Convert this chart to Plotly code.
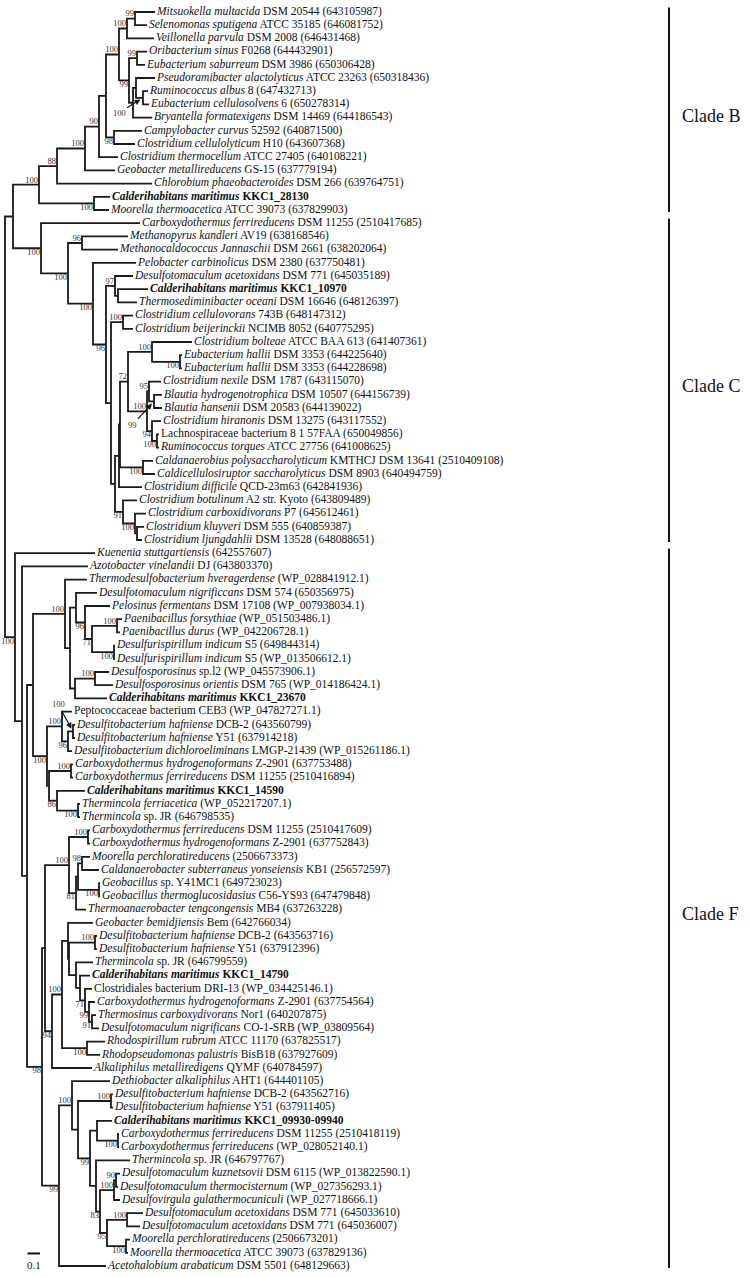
import plotly.graph_objects as go

# Arvore em Newick: folhas = indice nas listas de nomes, nos internos = bootstrap,
# comprimentos em substituicoes por sitio.
B_VEILLONELLA = "((0:0.160,1:0.096)99:0.064,2:0.216)100:0.064"
B_RUMINO = ("((3:0.080,4:0.064)99:0.064,((5:0.152,(6:0.040,7:0.048)100:0.056):0.024,"
            "8:0.152):0.032)99:0.080")
CLADE_B = ("((((((" + B_VEILLONELLA + "," + B_RUMINO + ")100:0.104,(9:0.224,10:0.168)98:0.064):0.056,"
           "11:0.152)90:0.112,12:0.240)100:0.224,13:0.760)88:0.144,(14:0.128,15:0.120)100:0.440)100:0.208")

C_LACHNO = ("((25:0.320,(26:0.016,27:0.016)100:0.224)100:0.192,((28:0.096,(29:0.064,30:0.064)99:0.040)95:0.016,"
            "(31:0.072,(32:0.016,33:0.016)100:0.040)94:0.040)100:0.152)72:0.064")
C_CLOSTRIDIA = ("(((" + C_LACHNO + ",(34:0.080,35:0.096)100:0.184):0.008,36:0.184):0.032,"
                "(37:0.112,(38:0.088,(39:0.056,40:0.040):0.016)100:0.096)91:0.064):0.032")
CLADE_C = ("(16:0.792,((17:0.368,18:0.288)96:0.112,(19:0.344,((20:0.144,(21:0.240,22:0.152):0.024)97:0.072,"
           "((23:0.080,24:0.080)100:0.096," + C_CLOSTRIDIA + "):0.040)96:0.104)100:0.200)100:0.216)100:0.224")

F_FA = ("(43:0.176,((44:0.168,(45:0.200,((46:0.040,47:0.024)100:0.200,(48:0.008,49:0.008)100:0.176)71:0.056)"
        "96:0.072):0.048,((50:0.112,51:0.144)100:0.160,52:0.256):0.040):0.040)100:0.256")
F_PK = ("((53:0.080,((54:0.016,55:0.016)100:0.040,56:0.032)96:0.048)100:0.120,((57:0.016,58:0.016)100:0.176,"
        "(59:0.224,(60:0.016,61:0.016)100:0.168)86:0.064):0.016)100:0.112")
F_CI = ("((62:0.016,63:0.016)100:0.152,(((64:0.064,65:0.136)98:0.032,(66:0.008,67:0.008)100:0.168):0.016,"
        "68:0.080)81:0.056)100:0.192")
F_DI = ("(((69:0.200,((70:0.016,71:0.016)100:0.208,(72:0.136,(73:0.080,(74:0.056,(75:0.048,(76:0.032,"
        "77:0.056)91:0.024)99:0.032)71:0.040):0.032):0.056):0.008):0.048,(78:0.144,79:0.104)100:0.200)100:0.080,"
        "80:0.320)94:0.056")
F_F4 = ("((81:0.304,((82:0.016,83:0.016)100:0.264,((84:0.120,(85:0.008,86:0.008)100:0.168):0.056,(87:0.272,"
        "(((88:0.032,89:0.016)90:0.016,90:0.048)100:0.112,((91:0.128,92:0.104)100:0.160,(93:0.032,94:0.016)100:0.152)"
        "95:0.056)83:0.032):0.048)99:0.096):0.048)100:0.104,95:0.376)99:0.136")
CLADE_F = ("(41:0.640,(42:0.528,((" + F_FA + "," + F_PK + "):0.048,((" + F_CI + "," + F_DI + "):0.024,"
           + F_F4 + ")98:0.120):0.040):0.056)100:0.080")

NEWICK = "((" + CLADE_B + "," + CLADE_C + "):0.064," + CLADE_F + ");"

# Nomes das folhas: parte em italico e parte normal.
SPECIES = [
    "Mitsuokella multacida", "Selenomonas sputigena", "Veillonella parvula", "Oribacterium sinus",
    "Eubacterium saburreum", "Pseudoramibacter alactolyticus", "Ruminococcus albus", "Eubacterium cellulosolvens",
    "Bryantella formatexigens", "Campylobacter curvus", "Clostridium cellulolyticum", "Clostridium thermocellum",
    "Geobacter metallireducens", "Chlorobium phaeobacteroides", "Calderihabitans maritimus", "Moorella thermoacetica",
    "Carboxydothermus ferrireducens", "Methanopyrus kandleri", "Methanocaldococcus Jannaschii",
    "Pelobacter carbinolicus", "Desulfotomaculum acetoxidans", "Calderihabitans maritimus",
    "Thermosediminibacter oceani", "Clostridium cellulovorans", "Clostridium beijerinckii", "Clostridium bolteae",
    "Eubacterium hallii", "Eubacterium hallii", "Clostridium nexile", "Blautia hydrogenotrophica",
    "Blautia hansenii", "Clostridium hiranonis", "", "Ruminococcus torques", "Caldanaerobius polysaccharolyticum",
    "Caldicellulosiruptor saccharolyticus", "Clostridium difficile", "Clostridium botulinum",
    "Clostridium carboxidivorans", "Clostridium kluyveri", "Clostridium ljungdahlii",
    "Kuenenia stuttgartiensis", "Azotobacter vinelandii", "Thermodesulfobacterium hveragerdense",
    "Desulfotomaculum nigrificcans", "Pelosinus fermentans", "Paenibacillus forsythiae", "Paenibacillus durus",
    "Desulfurispirillum indicum", "Desulfurispirillum indicum", "Desulfosporosinus", "Desulfosporosinus orientis",
    "Calderihabitans maritimus", "", "Desulfitobacterium hafniense", "Desulfitobacterium hafniense",
    "Desulfitobacterium dichloroeliminans", "Carboxydothermus hydrogenoformans", "Carboxydothermus ferrireducens",
    "Calderihabitans maritimus", "Thermincola ferriacetica", "Thermincola", "Carboxydothermus ferrireducens",
    "Carboxydothermus hydrogenoformans", "Moorella perchloratireducens", "Caldanaerobacter subterraneus yonseiensis",
    "Geobacillus", "Geobacillus thermoglucosidasius", "Thermoanaerobacter tengcongensis", "Geobacter bemidjiensis",
    "Desulfitobacterium hafniense", "Desulfitobacterium hafniense", "Thermincola", "Calderihabitans maritimus", "",
    "Carboxydothermus hydrogenoformans", "Thermosinus carboxydivorans", "Desulfotomaculum nigrificans",
    "Rhodospirillum rubrum", "Rhodopseudomonas palustris", "Alkaliphilus metalliredigens", "Dethiobacter alkaliphilus",
    "Desulfitobacterium hafniense", "Desulfitobacterium hafniense", "Calderihabitans maritimus",
    "Carboxydothermus ferrireducens", "Carboxydothermus ferrireducens", "Thermincola", "Desulfotomaculum kuznetsovii",
    "Desulfotomaculum thermocisternum", "Desulfovirgula gulathermocuniculi", "Desulfotomaculum acetoxidans",
    "Desulfotomaculum acetoxidans", "Moorella perchloratireducens", "Moorella thermoacetica",
    "Acetohalobium arabaticum",
]
STRAIN = [
    "DSM 20544 (643105987)", "ATCC 35185 (646081752)", "DSM 2008 (646431468)", "F0268 (644432901)",
    "DSM 3986 (650306428)", "ATCC 23263 (650318436)", "8 (647432713)", "6 (650278314)", "DSM 14469 (644186543)",
    "52592 (640871500)", "H10 (643607368)", "ATCC 27405 (640108221)", "GS-15 (637779194)", "DSM 266 (639764751)",
    "KKC1_28130", "ATCC 39073 (637829903)",
    "DSM 11255 (2510417685)", "AV19 (638168546)", "DSM 2661 (638202064)", "DSM 2380 (637750481)",
    "DSM 771 (645035189)", "KKC1_10970", "DSM 16646 (648126397)", "743B (648147312)", "NCIMB 8052 (640775295)",
    "ATCC BAA 613 (641407361)", "DSM 3353 (644225640)", "DSM 3353 (644228698)", "DSM 1787 (643115070)",
    "DSM 10507 (644156739)", "DSM 20583 (644139022)", "DSM 13275 (643117552)",
    "Lachnospiraceae bacterium 8 1 57FAA (650049856)", "ATCC 27756 (641008625)", "KMTHCJ DSM 13641 (2510409108)",
    "DSM 8903 (640494759)", "QCD-23m63 (642841936)", "A2 str. Kyoto (643809489)", "P7 (645612461)",
    "DSM 555 (640859387)", "DSM 13528 (648088651)",
    "(642557607)", "DJ (643803370)", "(WP_028841912.1)", "DSM 574 (650356975)", "DSM 17108 (WP_007938034.1)",
    "(WP_051503486.1)", "(WP_042206728.1)", "S5 (649844314)", "S5 (WP_013506612.1)", "sp.l2 (WP_045573906.1)",
    "DSM 765 (WP_014186424.1)", "KKC1_23670", "Peptococcaceae bacterium CEB3 (WP_047827271.1)",
    "DCB-2 (643560799)", "Y51 (637914218)", "LMGP-21439 (WP_015261186.1)", "Z-2901 (637753488)",
    "DSM 11255 (2510416894)", "KKC1_14590", "(WP_052217207.1)", "sp. JR (646798535)", "DSM 11255 (2510417609)",
    "Z-2901 (637752843)", "(2506673373)", "KB1 (256572597)", "sp. Y41MC1 (649723023)", "C56-YS93 (647479848)",
    "MB4 (637263228)", "Bem (642766034)", "DCB-2 (643563716)", "Y51 (637912396)", "sp. JR (646799559)",
    "KKC1_14790", "Clostridiales bacterium DRI-13 (WP_034425146.1)", "Z-2901 (637754564)", "Nor1 (640207875)",
    "CO-1-SRB (WP_03809564)", "ATCC 11170 (637825517)", "BisB18 (637927609)", "QYMF (640784597)",
    "AHT1 (644401105)", "DCB-2 (643562716)", "Y51 (637911405)", "KKC1_09930-09940", "DSM 11255 (2510418119)",
    "(WP_028052140.1)", "sp. JR (646797767)", "DSM 6115 (WP_013822590.1)", "(WP_027356293.1)",
    "(WP_027718666.1)", "DSM 771 (645033610)", "DSM 771 (645036007)", "(2506673201)", "ATCC 39073 (637829136)",
    "DSM 5501 (648129663)",
]
BOLD_LEAVES = [14, 21, 52, 59, 73, 84]

CLADE_NAMES = ["Clade B", "Clade C", "Clade F"]
CLADE_FIRST = [0, 16, 41]
CLADE_LAST = [15, 40, 95]

SCALE_BAR = 0.1

# Nos com rotulo indicado por seta (faixa de folhas) e deslocamento do texto em px.
ARROW_NODES = {(6, 7): (-24, 15), (29, 30): (-22, 24), (54, 55): (-15, -27)}
FORCE_ABOVE = [(28, 33)]

FONT = "Liberation Serif, Times New Roman, serif"
PX = 125.0  # pixels por unidade de distancia


def parse_newick(text):
    pos = 0

    def read():
        nonlocal pos
        node = {"children": [], "length": 0.0}
        if text[pos] == "(":
            pos += 1
            node["children"].append(read())
            while text[pos] == ",":
                pos += 1
                node["children"].append(read())
            pos += 1
        start = pos
        while text[pos] not in ":,);":
            pos += 1
        node["name"] = text[start:pos]
        if text[pos] == ":":
            pos += 1
            start = pos
            while text[pos] not in ",);":
                pos += 1
            node["length"] = float(text[start:pos])
        return node

    return read()


tree = parse_newick(NEWICK)
leaves, internal = [], []


def place(node, parent_x, parent=None, rank=0):
    node["x"] = parent_x + node["length"]
    node["parent"] = parent
    node["rank"] = rank
    if node["children"]:
        for i, child in enumerate(node["children"]):
            place(child, node["x"], node, i)
        node["y"] = (node["children"][0]["y"] + node["children"][-1]["y"]) / 2
        node["span"] = (node["children"][0]["span"][0], node["children"][-1]["span"][1])
        internal.append(node)
    else:
        node["y"] = len(leaves)
        node["span"] = (node["y"], node["y"])
        leaves.append(node)


place(tree, 0.0)
assert len(leaves) == len(SPECIES) == len(STRAIN)
assert all(int(leaf["name"]) == i for i, leaf in enumerate(leaves))

fig = go.Figure()

# Ramos da arvore (um colchete por no interno).
bx, by = [], []
for node in internal:
    first, last = node["children"][0], node["children"][-1]
    bx += [first["x"], node["x"], node["x"], last["x"], None]
    by += [first["y"], first["y"], last["y"], last["y"], None]
fig.add_trace(go.Scatter(x=bx, y=by, mode="lines", line=dict(color="#1a1a1a", width=1.8),
                         hoverinfo="skip", showlegend=False))


# Nomes das folhas.
def leaf_text(i):
    txt = f"<i>{SPECIES[i]}</i> {STRAIN[i]}" if SPECIES[i] else STRAIN[i]
    return f"<b>{txt}</b>" if i in BOLD_LEAVES else txt


fig.add_trace(go.Scatter(
    x=[leaf["x"] + 2 / PX for leaf in leaves], y=[leaf["y"] for leaf in leaves],
    text=[leaf_text(i) for i in range(len(leaves))], mode="text", textposition="middle right",
    textfont=dict(family=FONT, size=11.5, color="#111"), hoverinfo="skip", showlegend=False))

# Valores de bootstrap.
up_x, up_y, up_t, dn_x, dn_y, dn_t = [], [], [], [], [], []
for node in internal:
    if not node["name"] or node["parent"] is None:
        continue
    if node["span"] in ARROW_NODES:
        ax, ay = ARROW_NODES[node["span"]]
        fig.add_annotation(x=node["x"], y=node["y"], text=node["name"], showarrow=True, ax=ax, ay=ay,
                           arrowhead=2, arrowsize=1, arrowwidth=1.2, arrowcolor="#1a1a1a", standoff=3,
                           font=dict(family=FONT, size=8.5, color="#333"))
    elif node["rank"] == 0 or node["span"] in FORCE_ABOVE:
        up_x.append(node["x"] - 1 / PX); up_y.append(node["y"]); up_t.append(node["name"])
    else:
        dn_x.append(node["x"] - 1 / PX); dn_y.append(node["y"]); dn_t.append(node["name"])

for xs, ys, ts, pos in [(up_x, up_y, up_t, "top left"), (dn_x, dn_y, dn_t, "bottom left")]:
    fig.add_trace(go.Scatter(x=xs, y=ys, text=ts, mode="text", textposition=pos,
                             textfont=dict(family=FONT, size=8.5, color="#333"),
                             hoverinfo="skip", showlegend=False))

# Barras e nomes dos clados.
for name, a, b in zip(CLADE_NAMES, CLADE_FIRST, CLADE_LAST):
    fig.add_shape(type="line", xref="paper", yref="y", x0=669 / 750, x1=669 / 750, y0=a - 0.35, y1=b + 0.15,
                  line=dict(color="#111", width=2))
    fig.add_annotation(xref="paper", yref="y", x=680 / 750, y=(a + b) / 2 + 0.35, text=name, showarrow=False,
                       xanchor="left", yanchor="middle", font=dict(family=FONT, size=18, color="#111"))

# Barra de escala.
sb_x0, sb_y = 0.18, 94.05
fig.add_shape(type="line", x0=sb_x0, x1=sb_x0 + SCALE_BAR, y0=sb_y, y1=sb_y, line=dict(color="#111", width=2))
fig.add_annotation(x=sb_x0 + SCALE_BAR / 2, y=sb_y + 0.25, text=str(SCALE_BAR), showarrow=False,
                   yanchor="top", font=dict(family=FONT, size=11, color="#111"))

fig.update_layout(
    width=750, height=1277, margin=dict(l=0, r=0, t=0, b=0),
    paper_bgcolor="white", plot_bgcolor="white",
    xaxis=dict(range=[-5 / PX, 745 / PX], visible=False, fixedrange=True),
    yaxis=dict(range=[(1277 - 12) / 13.2, -12 / 13.2], visible=False, fixedrange=True),
)

fig.write_html("out.html", config={"displayModeBar": False},
               post_script="document.body.style.margin = '0';")
